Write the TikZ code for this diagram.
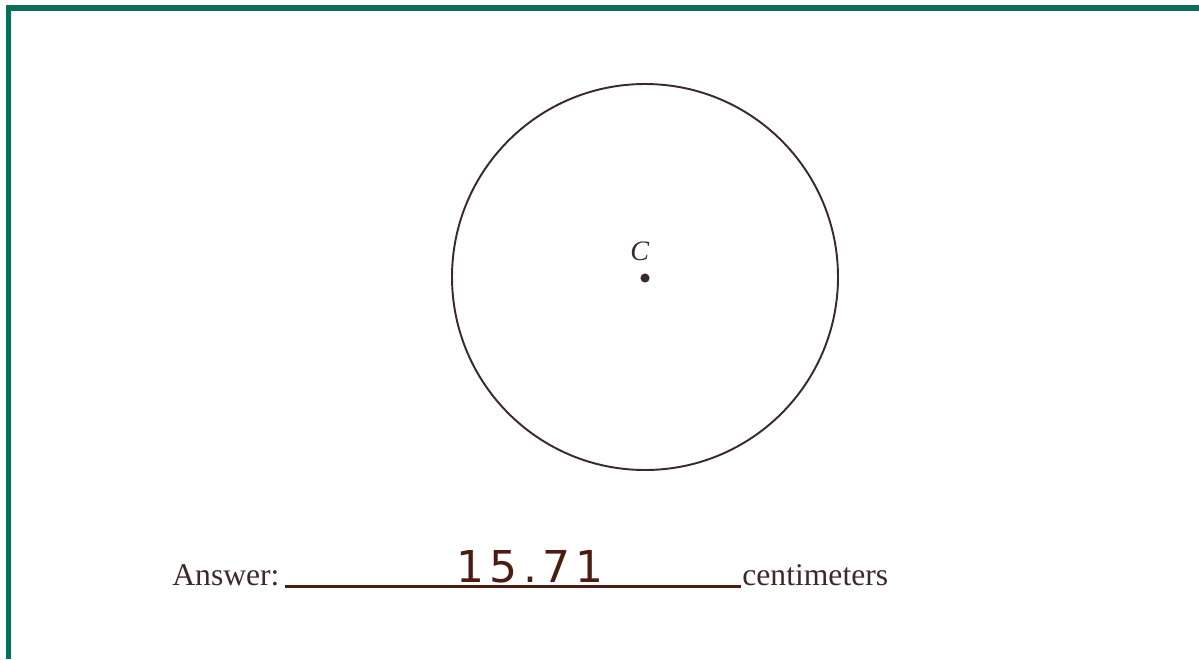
\documentclass[tikz,border=0pt]{standalone}
\usepackage{fontspec}
\setmainfont{Liberation Serif}
\newfontfamily\handfont[LetterSpace=12]{DejaVu Sans}
\usepackage{xcolor}
\usetikzlibrary{calc,positioning}

\definecolor{frame}{HTML}{0A6E58}
\definecolor{ink}{HTML}{3A2A2A}
\definecolor{pen}{HTML}{4A1C12}

\begin{document}
\begin{tikzpicture}[x=1cm,y=1cm]
		\useasboundingbox (0,0) rectangle (23.98,-13.18);
		
		% frame on top and left
		\draw[frame, line width=3.1pt] (0.17,-13.18) -- (0.17,-0.16) -- (23.98,-0.16);
		
		\draw[ink, line width=1.1pt] (12.9,-5.54) circle (3.86);
		
		\fill[ink] (12.9,-5.56) circle (2.6pt);
		\node[ink, font=\fontsize{16}{19}\selectfont] (c) at (12.8,-5.02) {\textit{C}};
		
		\node[ink, anchor=base west, inner sep=0pt, font=\fontsize{18}{21}\selectfont] (ans) at (3.44,-11.7) {Answer:};
		\node[ink, anchor=base west, inner sep=0pt, font=\fontsize{18}{21}\selectfont] (cm) at (14.84,-11.7) {centimeters};
		
		\draw[pen, line width=2.2pt] ($(ans.base east)+(0.1,-0.03)$) -- ($(cm.base west)+(-0.03,-0.03)$);
		
		\node[pen, anchor=base, inner sep=0pt, font=\handfont\fontsize{25}{28}\selectfont] (val) at (10.6,-11.64) {15.71};
	\end{tikzpicture}
\end{document}
